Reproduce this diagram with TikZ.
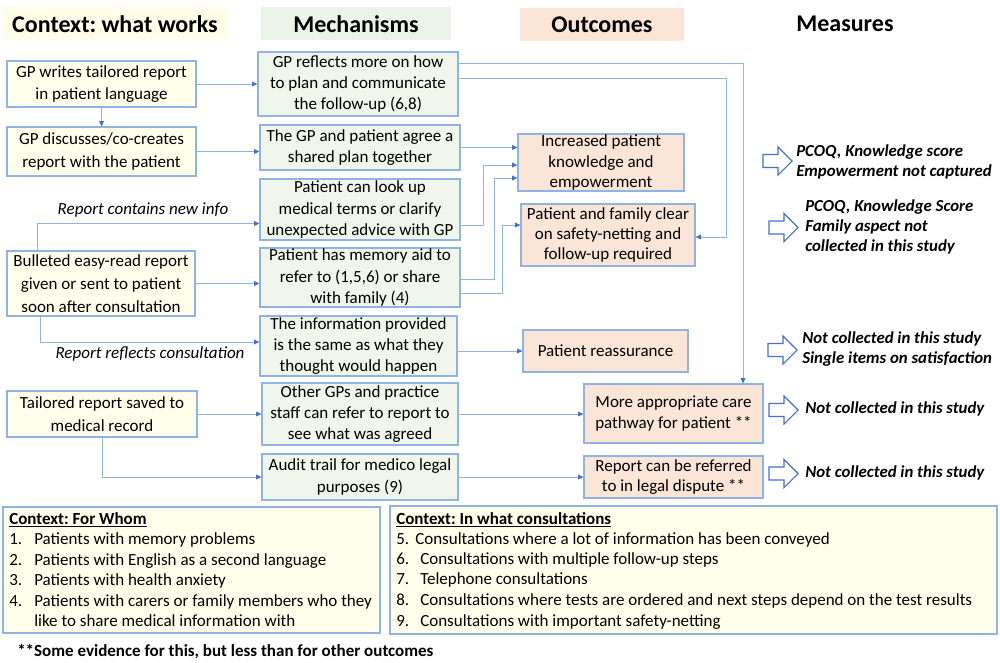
\documentclass[tikz,border=0pt]{standalone}
\usepackage{fontspec}
\setmainfont{Carlito}
\frenchspacing
\usetikzlibrary{arrows.meta,calc}
\definecolor{bxline}{RGB}{143,180,226}
\definecolor{lnc}{RGB}{143,180,226}
\definecolor{arrc}{RGB}{68,114,196}
\definecolor{ctxfill}{RGB}{255,255,236}
\definecolor{mechfill}{RGB}{240,246,236}
\definecolor{outfill}{RGB}{251,229,214}
\definecolor{hdrY}{RGB}{253,253,232}
\definecolor{hdrG}{RGB}{236,244,234}
\definecolor{hdrP}{RGB}{251,229,214}
\definecolor{marc}{RGB}{68,114,196}
\tikzset{
  sz/.style 2 args={minimum width={(#1)*0.75pt},minimum height={(#2)*0.75pt}},
  box/.style={draw=bxline,line width=0.9pt,inner sep=0pt,align=center},
  ctx/.style={box,fill=ctxfill,font=\fontsize{12.75pt}{17pt}\selectfont},
  mech/.style={box,fill=mechfill,font=\fontsize{12.75pt}{15.9pt}\selectfont},
  outc/.style={box,fill=outfill,font=\fontsize{12.75pt}{15.2pt}\selectfont},
  conn/.style={draw=lnc,line width=0.7pt,-{Triangle[length=4pt,width=3.6pt,color=arrc]}},
  hdr/.style={inner sep=0pt,font=\fontsize{18pt}{20pt}\selectfont\bfseries},
  meas/.style={inner sep=0pt,anchor=west,align=left,font=\fontsize{12.6pt}{15pt}\selectfont\bfseries\itshape},
  marr/.style={draw=marc,line width=0.8pt,fill=white,line join=miter},
  lbl/.style={inner sep=0pt,font=\fontsize{12.75pt}{15pt}\selectfont\itshape},
  lst/.style={inner sep=0pt,anchor=west,font=\fontsize{12.75pt}{15.4pt}\selectfont},
  panel/.style={draw=bxline,line width=0.9pt,fill=ctxfill,inner sep=0pt},
}
\newcommand\measarrow[2]{%
  \draw[marr] (#1,#2-6.5) -- (#1+15,#2-6.5) -- (#1+15,#2-14) -- (#1+29,#2)
     -- (#1+15,#2+14) -- (#1+15,#2+6.5) -- (#1,#2+6.5) -- cycle;}
\begin{document}
\begin{tikzpicture}[x=0.75pt,y=-0.75pt]
\useasboundingbox[fill=white] (0,0) rectangle (1000,662);

% headers
\fill[hdrY] (3,7) rectangle (227,40);
\fill[hdrG] (261,7) rectangle (451,40);
\fill[hdrP] (520,8) rectangle (684,41);
\node[hdr] (h1) at (115,24) {Context: what works};
\node[hdr] (h2) at (356,24) {Mechanisms};
\node[hdr] (h3) at (602,25) {Outcomes};
\node[hdr] (h4) at (845,24) {Measures};

% context boxes
\node[ctx,sz={189}{46}] (L1) at (101.5,84) {GP writes tailored report\\in patient language};
\node[ctx,sz={189}{49}] (L2) at (101.5,151.5) {GP discusses/co-creates\\report with the patient};
\node[ctx,sz={188}{65}] (L3) at (101,283.5) {Bulleted easy-read report\\given or sent to patient\\soon after consultation};
\node[ctx,sz={190}{46}] (L4) at (102,414) {Tailored report saved to\\medical record};

% mechanism boxes
\node[mech,sz={200}{64}] (M1) at (358,84) {GP reflects more on how\\to plan and communicate\\the follow-up (6,8)};
\node[mech,sz={200}{45}] (M2) at (360,147.5) {The GP and patient agree a\\shared plan together};
\node[mech,sz={200}{61}] (M3) at (360,209.5) {Patient can look up\\medical terms or clarify\\unexpected advice with GP};
\node[mech,sz={200}{59}] (M4) at (360,277.5) {Patient has memory aid to\\refer to (1,5,6) or share\\with family (4)};
\node[mech,sz={197}{60}] (M5) at (358.5,346) {The information provided\\is the same as what they\\thought would happen};
\node[mech,sz={196}{62}] (M6) at (360,414) {Other GPs and practice\\staff can refer to report to\\see what was agreed};
\node[mech,sz={196}{46}] (M7) at (360,477) {Audit trail for medico legal\\purposes (9)};

% outcome boxes
\node[outc,sz={166}{57}] (O1) at (601,162.5) {Increased patient\\knowledge and\\empowerment};
\node[outc,sz={174}{62}] (O2) at (608,235) {Patient and family clear\\on safety-netting and\\follow-up required};
\node[outc,sz={165}{42}] (O3) at (605.5,351) {Patient reassurance};
\node[outc,sz={179}{59}] (O4) at (673.5,413.5) {More appropriate care\\pathway for patient **};
\node[outc,sz={179}{42}] (O5) at (673.5,477) {Report can be referred\\to in legal dispute **};

% connectors context -> mechanisms
\draw[conn] (L1.east) -- (M1.west);
\draw[conn] (L1.south) -- (L2.north);
\draw[conn] (L2.east) -- (L2.east -| M2.west);
\draw[conn] ($(L3.north west)+(31,0)$) |- ($(M3.west)+(0,14)$);
\draw[conn] (L3.east) -- (L3.east -| M4.west);
\draw[conn] ($(L3.south west)+(34,0)$) |- ($(M5.west)+(0,-4)$);
\draw[conn] (L4.east) -- (M6.west);
\draw[conn] (L4.south) |- (M7.west);
\node[lbl] (lb1) at (143,210) {Report contains new info};
\node[lbl] (lb2) at (150,354) {Report reflects consultation};

% connectors mechanisms -> outcomes
\draw[conn] (M2.east) -- (M2.east -| O1.west);
\draw[conn] ($(M3.east)+(0,15.5)$) -| ($(O1.west)+(-34,2.5)$) -- ($(O1.west)+(0,2.5)$);
\draw[conn] ($(M4.east)+(0,1.5)$) -| ($(O1.west)+(-23,15.5)$) -- ($(O1.west)+(0,15.5)$);
\draw[conn] ($(M4.east)+(0,15.5)$) -| ($(O2.west)+(-18,-10)$) -- ($(O2.west)+(0,-10)$);
\draw[conn] ($(M1.east)+(0,-6)$) -| ($(O2.east)+(31,2)$) -- ($(O2.east)+(0,2)$);
\draw[conn] ($(M1.east)+(0,-21)$) -| ($(O4.north)+(69.5,0)$);
\draw[conn] (O3.west -| M5.east) -- (O3.west);
\draw[conn] (M6.east) -- (M6.east -| O4.west);
\draw[conn] (M7.east) -- (O5.west);

% measures
\measarrow{763}{161}
\measarrow{769}{227.5}
\measarrow{768}{350}
\measarrow{769}{410}
\measarrow{769}{473.5}
\node[meas] (ms1) at (796,162) {PCOQ, Knowledge score\\Empowerment not captured};
\node[meas] (ms2) at (805,227) {PCOQ, Knowledge Score\\Family aspect not\\collected in this study};
\node[meas] (ms3) at (802,349) {Not collected in this study\\Single items on satisfaction};
\node[meas] (ms4) at (805,409) {Not collected in this study};
\node[meas] (ms5) at (805,473) {Not collected in this study};

% bottom boxes
\node[panel,sz={377}{126}] (B1) at (191.5,570) {};
\node[panel,sz={607}{128}] (B2) at (693.5,570) {};
\node[lst,font=\fontsize{12.75pt}{15.4pt}\selectfont\bfseries] (t1) at (9,520) {\strut\underline{Context: For Whom}};
\node[lst] (n1) at (9,540) {\strut 1.};
\node[lst] (i1) at (34,540) {\strut Patients with memory problems};
\node[lst] (n2) at (9,561) {\strut 2.};
\node[lst] (i2) at (34,561) {\strut Patients with English as a second language};
\node[lst] (n3) at (9,581) {\strut 3.};
\node[lst] (i3) at (34,581) {\strut Patients with health anxiety};
\node[lst] (n4) at (9,602) {\strut 4.};
\node[lst] (i4) at (34,602) {\strut Patients with carers or family members who they};
\node[lst] (i4b) at (34,622) {\strut like to share medical information with};

\node[lst,font=\fontsize{12.75pt}{15.4pt}\selectfont\bfseries] (t2) at (396,520) {\strut\underline{Context: In what consultations}};
\node[lst] (n5) at (396,540) {\strut 5.};
\node[lst] (i5) at (415,540) {\strut Consultations where a lot of information has been conveyed};
\node[lst] (n6) at (396,560) {\strut 6.};
\node[lst] (i6) at (420,560) {\strut Consultations with multiple follow-up steps};
\node[lst] (n7) at (396,580) {\strut 7.};
\node[lst] (i7) at (420,580) {\strut Telephone consultations};
\node[lst] (n8) at (396,601) {\strut 8.};
\node[lst] (i8) at (420,601) {\strut Consultations where tests are ordered and next steps depend on the test results};
\node[lst] (n9) at (396,622) {\strut 9.};
\node[lst] (i9) at (420,622) {\strut Consultations with important safety-netting};

\node[lst,font=\fontsize{12.75pt}{15pt}\selectfont\bfseries] (fn) at (17,652) {\strut **Some evidence for this, but less than for other outcomes};
\end{tikzpicture}
\end{document}
